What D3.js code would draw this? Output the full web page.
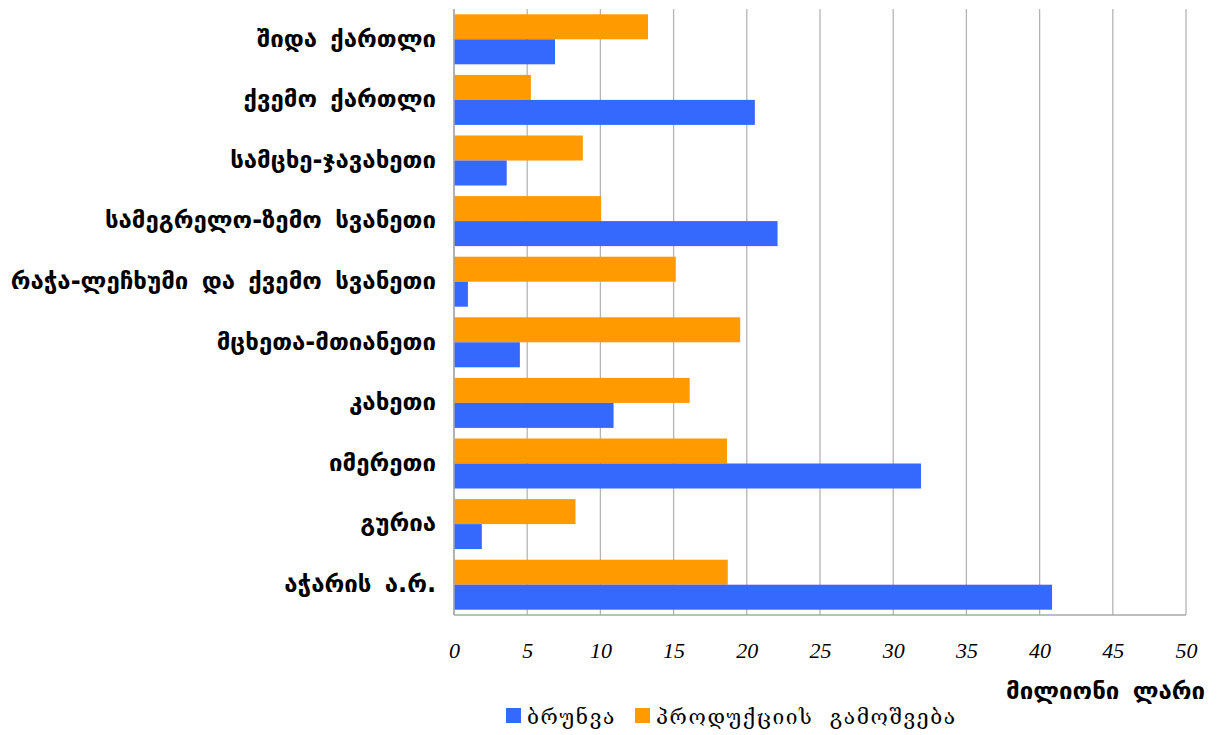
<!DOCTYPE html>
<html>
<head>
<meta charset="utf-8">
<script src="https://cdn.jsdelivr.net/npm/d3@7/dist/d3.min.js"></script>
<style>
  html, body { margin: 0; padding: 0; background: #fff; }
  svg { display: block; }
</style>
</head>
<body>
<svg id="chart" width="1222" height="735"></svg>
<script>
// Regions of Georgia
const regions = [
  "შიდა ქართლი",
  "ქვემო ქართლი",
  "სამცხე-ჯავახეთი",
  "სამეგრელო-ზემო სვანეთი",
  "რაჭა-ლეჩხუმი და ქვემო სვანეთი",
  "მცხეთა-მთიანეთი",
  "კახეთი",
  "იმერეთი",
  "გურია",
  "აჭარის ა.რ."
];
// Turnover, million GEL
const turnover = [6.9, 20.55, 3.6, 22.1, 0.95, 4.5, 10.9, 31.9, 1.9, 40.85];
// Production output, million GEL
const production = [13.25, 5.25, 8.8, 10.05, 15.15, 19.55, 16.1, 18.65, 8.3, 18.7];

const seriesNames = ["ბრუნვა", "პროდუქციის გამოშვება"];
const xTicks = [0, 5, 10, 15, 20, 25, 30, 35, 40, 45, 50];
const axisTitle = "მილიონი ლარი";

const colors = { turnover: "#3569fe", production: "#ff9b00" };

const svg = d3.select("#chart");
const plot = { left: 454, right: 1186, top: 9, bottom: 615 };

const x = d3.scaleLinear().domain([0, 50]).range([plot.left, plot.right]);
const y = d3.scaleBand().domain(regions).range([plot.top, plot.bottom])
  .paddingInner(0.175).paddingOuter(0.0875);
const sub = d3.scaleBand().domain(["production", "turnover"]).range([0, y.bandwidth()]);

// vertical grid lines
svg.append("g").selectAll("line").data(xTicks).join("line")
  .attr("x1", d => x(d)).attr("x2", d => x(d))
  .attr("y1", plot.top).attr("y2", plot.bottom)
  .attr("stroke", "#b4b4b4").attr("stroke-width", 1.3);

// bars
const rows = regions.map((r, i) => ({ region: r, turnover: turnover[i], production: production[i] }));
const g = svg.append("g");
["production", "turnover"].forEach(key => {
  g.append("g").selectAll("rect").data(rows).join("rect")
    .attr("x", x(0))
    .attr("y", d => y(d.region) + sub(key))
    .attr("width", d => x(d[key]) - x(0))
    .attr("height", sub.bandwidth())
    .attr("fill", colors[key]);
});

// axis frame lines
svg.append("line").attr("x1", plot.left).attr("x2", plot.left)
  .attr("y1", plot.top).attr("y2", plot.bottom)
  .attr("stroke", "#a8a8a8").attr("stroke-width", 1.5);
svg.append("line").attr("x1", plot.left).attr("x2", plot.right)
  .attr("y1", plot.bottom).attr("y2", plot.bottom)
  .attr("stroke", "#a8a8a8").attr("stroke-width", 1.5);

// x tick labels
const xAxis = d3.axisBottom(x).tickValues(xTicks).tickSize(0).tickPadding(0);
const xa = svg.append("g").attr("transform", `translate(0,${plot.bottom})`).call(xAxis);
xa.select(".domain").remove();
xa.selectAll("text")
  .attr("dy", null).attr("y", 43)
  .attr("font-family", "'Liberation Serif', serif")
  .attr("font-style", "italic")
  .attr("font-size", 22)
  .attr("fill", "#000");

// category labels
const yAxis = d3.axisLeft(y).tickSize(0).tickPadding(0);
const ya = svg.append("g").attr("transform", `translate(436,0)`).call(yAxis);
ya.select(".domain").remove();
ya.selectAll("text")
  .attr("dy", "0.3em")
  .attr("font-family", "'DejaVu Sans', sans-serif")
  .attr("font-weight", "bold")
  .attr("font-size", 24)
  .style("word-spacing", "5px")
  .attr("fill", "#000");

// axis title
svg.append("text")
  .attr("x", 1205).attr("y", 699)
  .attr("text-anchor", "end")
  .attr("font-family", "'DejaVu Sans', sans-serif")
  .attr("font-weight", "bold")
  .attr("font-size", 24)
  .style("word-spacing", "5px")
  .text(axisTitle);

// legend
const legend = svg.append("g");
const legendItems = [
  { name: seriesNames[0], color: colors.turnover, x: 506 },
  { name: seriesNames[1], color: colors.production, x: 635 }
];
legendItems.forEach(it => {
  legend.append("rect").attr("x", it.x).attr("y", 708).attr("width", 15).attr("height", 15)
    .attr("fill", it.color);
  legend.append("text").attr("x", it.x + 21).attr("y", 724)
    .attr("font-family", "'DejaVu Serif', serif")
    .attr("font-size", 21)
    .style("letter-spacing", "1.6px")
    .style("word-spacing", "8px")
    .attr("fill", "#000")
    .text(it.name);
});
</script>
</body>
</html>
